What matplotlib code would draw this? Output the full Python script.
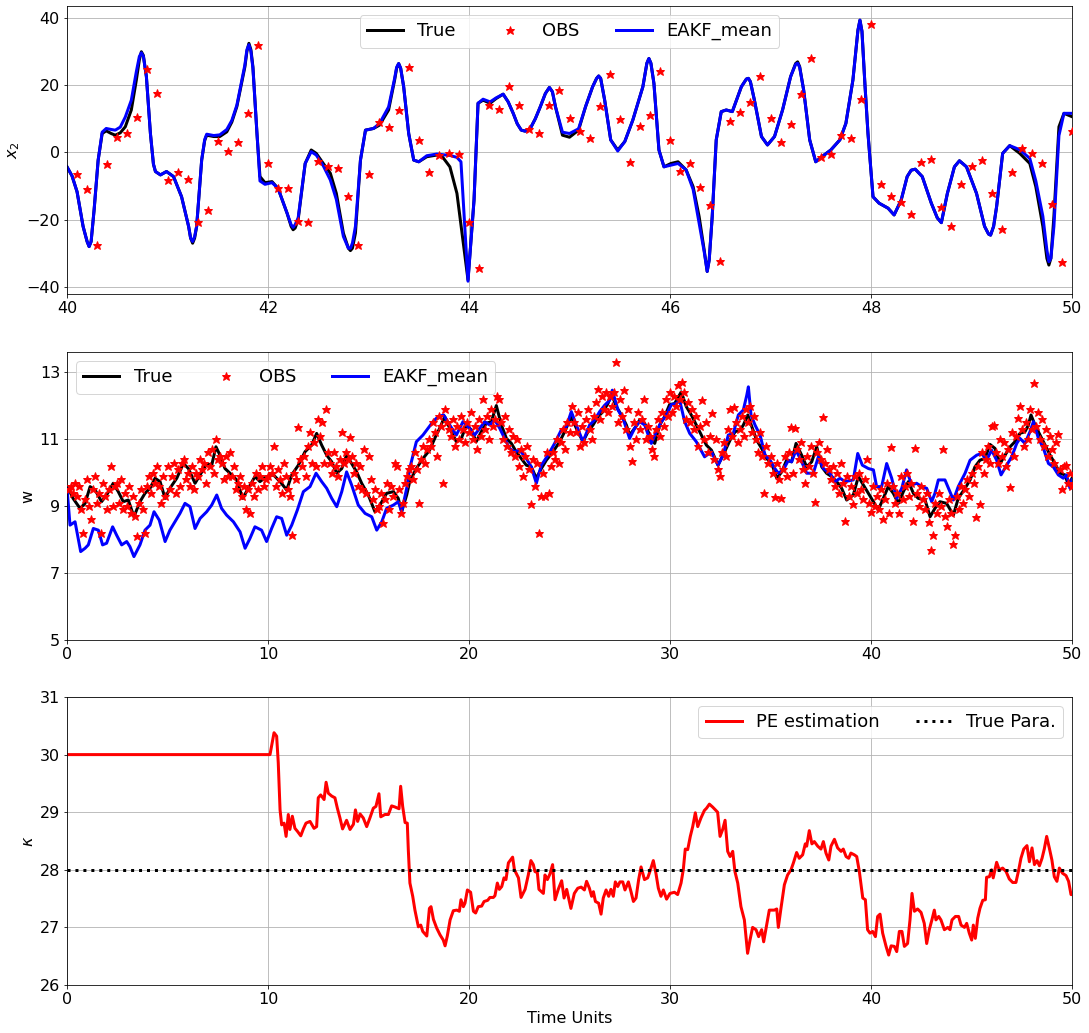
import matplotlib
matplotlib.use("Agg")
import matplotlib.pyplot as plt

# ---------------- Panel 1: x2 over 40-50 (time, value) ----------------
true_x2 = [
    (40.00, -4.3), (40.05, -7.0), (40.10, -11.7), (40.16, -22.0), (40.20, -26.5), (40.22, -28.0),
    (40.24, -26.5), (40.27, -17.0), (40.31, -2.3), (40.35, 5.6), (40.39, 6.4), (40.44, 5.6),
    (40.48, 5.1), (40.53, 5.8), (40.58, 7.6), (40.64, 12.6), (40.69, 21.5), (40.72, 27.5),
    (40.74, 29.9), (40.76, 28.8), (40.79, 22.5), (40.83, 5.6), (40.86, -3.5), (40.88, -5.7),
    (40.93, -6.7), (40.99, -5.7), (41.06, -7.2), (41.14, -13.2), (41.21, -22.0), (41.23, -25.5),
    (41.25, -27.0), (41.27, -25.5), (41.29, -22.0), (41.34, -2.3), (41.37, 3.5), (41.39, 5.1),
    (41.46, 4.7), (41.52, 4.7), (41.59, 6.1), (41.64, 9.0), (41.69, 13.6), (41.77, 25.4),
    (41.79, 30.0), (41.81, 32.4), (41.83, 30.5), (41.85, 25.4), (41.89, 5.6), (41.92, -7.2),
    (41.97, -9.0), (42.04, -8.7), (42.10, -10.7), (42.19, -18.1), (42.23, -22.0), (42.25, -23.0),
    (42.27, -22.5), (42.30, -20.0), (42.37, -3.3), (42.43, 0.7), (42.48, -0.3), (42.55, -3.3),
    (42.62, -6.2), (42.68, -12.2), (42.75, -24.0), (42.80, -28.5), (42.82, -29.2), (42.84, -28.5),
    (42.87, -24.0), (42.92, -2.3), (42.97, 6.6), (43.05, 7.1), (43.11, 8.1), (43.20, 12.6),
    (43.26, 21.5), (43.28, 25.0), (43.30, 26.4), (43.32, 25.0), (43.35, 19.5), (43.40, 5.6),
    (43.45, -2.3), (43.50, -2.8), (43.58, -1.3), (43.68, -0.8), (43.74, -1.5), (43.81, -4.3),
    (43.88, -12.2), (43.93, -24.0), (43.99, -37.9), (44.05, -14.2), (44.09, 14.6), (44.14, 15.5),
    (44.21, 14.6), (44.27, 16.0), (44.34, 17.3), (44.39, 15.0), (44.44, 11.6), (44.48, 8.5),
    (44.52, 6.6), (44.56, 6.3), (44.61, 7.1), (44.66, 10.0), (44.71, 13.6), (44.76, 17.5),
    (44.80, 19.3), (44.83, 18.0), (44.86, 13.6), (44.93, 5.1), (45.00, 4.5), (45.09, 6.6),
    (45.16, 13.6), (45.23, 19.5), (45.27, 22.0), (45.29, 22.7), (45.31, 22.0), (45.35, 15.5),
    (45.41, 3.7), (45.48, 0.7), (45.55, 3.2), (45.63, 9.6), (45.73, 19.5), (45.77, 26.5),
    (45.79, 27.9), (45.81, 26.5), (45.84, 20.5), (45.89, 0.7), (45.94, -4.3), (46.01, -3.3),
    (46.08, -2.8), (46.16, -5.2), (46.23, -10.2), (46.29, -19.1), (46.34, -29.0), (46.37, -35.4),
    (46.39, -32.0), (46.42, -19.1), (46.46, 3.7), (46.51, 12.1), (46.56, 12.6), (46.62, 12.1),
    (46.71, 19.5), (46.76, 21.8), (46.78, 22.0), (46.80, 21.0), (46.84, 15.5), (46.91, 4.7),
    (46.97, 2.2), (47.04, 4.7), (47.12, 12.6), (47.20, 22.5), (47.25, 26.4), (47.27, 26.9),
    (47.29, 25.5), (47.33, 18.5), (47.39, 3.7), (47.45, -2.8), (47.52, -1.1), (47.60, 0.7),
    (47.69, 3.7), (47.75, 8.6), (47.82, 21.5), (47.87, 36.3), (47.89, 39.3), (47.91, 36.0),
    (47.94, 20.0), (47.97, 5.6), (48.02, -13.2), (48.08, -15.1), (48.17, -16.6), (48.23, -18.6),
    (48.30, -14.2), (48.36, -7.2), (48.40, -5.3), (48.44, -5.0), (48.51, -7.2), (48.60, -15.1),
    (48.66, -19.5), (48.70, -20.9), (48.76, -12.2), (48.83, -4.3), (48.88, -2.5), (48.95, -4.3),
    (49.05, -12.2), (49.13, -22.0), (49.17, -24.3), (49.19, -24.6), (49.22, -22.0), (49.25, -16.1),
    (49.31, -0.3), (49.38, 2.0), (49.48, -0.3), (49.58, -3.3), (49.64, -10.2), (49.71, -22.0),
    (49.75, -31.5), (49.77, -33.5), (49.79, -31.5), (49.82, -19.0), (49.87, 7.6), (49.92, 11.6),
    (50.00, 10.6)]

eakf_x2 = [
    (40.00, -4.3), (40.05, -7.0), (40.10, -11.7), (40.16, -22.0), (40.20, -26.5), (40.22, -28.0),
    (40.24, -26.5), (40.27, -17.0), (40.31, -2.3), (40.35, 6.0), (40.39, 7.1), (40.44, 6.8),
    (40.48, 6.6), (40.53, 7.5), (40.58, 10.5), (40.64, 15.5), (40.69, 24.0), (40.72, 28.5),
    (40.74, 29.6), (40.76, 28.5), (40.79, 22.5), (40.83, 5.6), (40.86, -3.5), (40.88, -5.7),
    (40.93, -6.7), (40.99, -5.7), (41.06, -7.2), (41.14, -13.2), (41.21, -22.0), (41.23, -25.5),
    (41.25, -26.5), (41.27, -25.0), (41.29, -22.0), (41.34, -2.3), (41.37, 3.8), (41.39, 5.4),
    (41.46, 5.0), (41.52, 5.2), (41.59, 6.8), (41.64, 9.5), (41.69, 14.0), (41.77, 26.0),
    (41.79, 30.5), (41.81, 32.0), (41.83, 30.0), (41.85, 25.0), (41.89, 5.6), (41.92, -8.5),
    (41.97, -9.5), (42.04, -9.0), (42.10, -10.7), (42.19, -18.1), (42.23, -21.5), (42.25, -22.3),
    (42.27, -21.5), (42.30, -19.5), (42.37, -3.3), (42.43, 0.2), (42.48, -0.8), (42.55, -4.0),
    (42.62, -8.2), (42.68, -14.0), (42.75, -25.0), (42.80, -28.5), (42.82, -28.5), (42.84, -27.0),
    (42.87, -22.0), (42.92, -2.3), (42.97, 6.6), (43.05, 7.1), (43.11, 8.6), (43.20, 13.5),
    (43.26, 22.0), (43.28, 25.3), (43.30, 26.4), (43.32, 25.0), (43.35, 19.5), (43.40, 5.6),
    (43.45, -2.3), (43.50, -2.8), (43.58, -1.0), (43.68, -0.5), (43.74, -0.7), (43.81, -0.9),
    (43.88, -1.5), (43.92, -2.8), (43.99, -38.3), (44.05, -14.2), (44.09, 14.6), (44.14, 15.8),
    (44.21, 15.0), (44.27, 16.2), (44.34, 17.3), (44.39, 15.0), (44.44, 11.6), (44.48, 8.5),
    (44.52, 6.6), (44.56, 6.3), (44.61, 7.1), (44.66, 10.0), (44.71, 13.6), (44.76, 17.5),
    (44.80, 19.3), (44.83, 18.0), (44.86, 13.6), (44.93, 6.0), (45.00, 5.6), (45.09, 7.0),
    (45.16, 13.6), (45.23, 19.5), (45.27, 22.0), (45.29, 22.7), (45.31, 22.0), (45.35, 15.5),
    (45.41, 3.7), (45.48, 0.4), (45.55, 3.2), (45.63, 9.6), (45.73, 19.5), (45.77, 26.5),
    (45.79, 27.9), (45.81, 26.5), (45.84, 20.5), (45.89, 0.7), (45.94, -4.3), (46.01, -3.8),
    (46.08, -3.3), (46.16, -5.2), (46.23, -11.0), (46.29, -21.0), (46.34, -29.5), (46.37, -35.4),
    (46.39, -32.0), (46.42, -19.1), (46.46, 3.7), (46.51, 12.1), (46.56, 12.6), (46.62, 12.1),
    (46.71, 19.5), (46.76, 21.8), (46.78, 22.0), (46.80, 21.0), (46.84, 15.5), (46.91, 4.7),
    (46.97, 2.2), (47.04, 4.7), (47.12, 12.6), (47.20, 22.5), (47.25, 26.2), (47.27, 26.5),
    (47.29, 25.3), (47.33, 18.5), (47.39, 3.7), (47.45, -2.8), (47.52, -1.1), (47.60, 0.7),
    (47.69, 3.7), (47.75, 8.6), (47.82, 21.5), (47.87, 36.3), (47.89, 39.3), (47.91, 36.0),
    (47.94, 20.0), (47.97, 5.6), (48.02, -13.2), (48.08, -15.1), (48.17, -16.6), (48.23, -18.6),
    (48.30, -14.2), (48.36, -7.2), (48.40, -5.3), (48.44, -5.0), (48.51, -7.2), (48.60, -15.1),
    (48.66, -19.5), (48.70, -20.9), (48.76, -12.2), (48.83, -4.3), (48.88, -2.5), (48.95, -4.3),
    (49.05, -12.2), (49.13, -22.0), (49.17, -24.3), (49.19, -24.6), (49.22, -22.0), (49.25, -16.1),
    (49.31, -0.3), (49.38, 2.0), (49.48, 0.8), (49.58, -1.8), (49.64, -8.5), (49.71, -19.0),
    (49.75, -29.0), (49.77, -32.5), (49.79, -31.5), (49.82, -22.0), (49.87, 5.0), (49.92, 11.6),
    (50.00, 11.6)]

obs_x2_t = [40.1 + 0.1 * i for i in range(100)]
obs_x2_v = [-6.4, -10.9, -27.5, -3.5, 4.6, 5.9, 10.5, 24.8, 17.5, -8.2,
            -5.8, -7.9, -20.8, -17.1, 3.5, 0.4, 3.0, 11.7, 31.9, -3.2,
            -10.5, -10.5, -20.3, -20.6, -2.5, -4.0, -4.7, -13.0, -27.5, -6.3,
            9.1, 7.5, 12.6, 25.3, 3.7, -5.8, -0.9, -0.2, -0.5, -20.8,
            -34.3, 14.0, 12.9, 19.7, 14.0, 6.9, 5.7, 14.0, 18.5, 10.2,
            6.4, 4.4, 13.8, 23.3, 9.9, -3.0, 7.8, 11.1, 24.2, 3.7,
            -5.6, -3.2, -10.3, -15.6, -32.3, 9.3, 12.0, 15.0, 22.7, 10.2,
            3.1, 8.3, 17.2, 27.9, -1.3, -0.6, 5.1, 4.4, 16.0, 38.1,
            -9.5, -13.0, -14.7, -18.3, -3.0, -2.0, -16.1, -22.0, -9.3, -4.1,
            -2.3, -12.2, -22.8, -5.9, 1.4, -0.2, -3.2, -15.3, -32.7, 6.3]

# ---------------- Panel 2: w over 0-50 ----------------
true_w_t = [0.0, 0.07, 0.3, 0.65, 0.9, 1.15, 1.4, 1.72, 1.97, 2.3, 2.55, 2.8, 3.05, 3.33, 3.63, 3.88,
            4.13, 4.38, 4.63, 4.88, 5.12, 5.46, 5.79, 6.04, 6.37, 6.62, 6.95, 7.2, 7.41, 7.61, 7.86,
            8.11, 8.44, 8.74, 9.02, 9.35, 9.6, 9.93, 10.27, 10.6, 10.93, 11.18, 11.51, 11.84, 12.17,
            12.42, 12.67, 12.92, 13.17, 13.42, 13.67, 13.91, 14.16, 14.41, 14.66, 14.99, 15.32, 15.57,
            15.9, 16.24, 16.48, 16.65, 16.9, 17.05, 17.38, 17.71, 18.04, 18.37, 18.54, 18.79, 19.04,
            19.37, 19.62, 19.87, 20.12, 20.36, 20.61, 20.86, 21.11, 21.36, 21.61, 21.86, 22.11, 22.35,
            22.6, 22.85, 23.1, 23.35, 23.6, 23.85, 24.18, 24.51, 24.76, 25.09, 25.34, 25.67, 25.92,
            26.17, 26.42, 26.67, 26.92, 27.08, 27.33, 27.58, 27.83, 27.99, 28.24, 28.49, 28.74, 28.99,
            29.24, 29.49, 29.73, 29.98, 30.23, 30.56, 30.81, 31.06, 31.31, 31.56, 31.81, 32.06, 32.39,
            32.64, 32.99, 33.24, 33.49, 33.65, 33.87, 34.07, 34.31, 34.56, 34.81, 35.06, 35.31, 35.56,
            35.8, 36.05, 36.27, 36.55, 36.8, 37.05, 37.3, 37.55, 37.79, 38.04, 38.29, 38.54, 38.79,
            39.12, 39.37, 39.62, 39.87, 40.12, 40.36, 40.61, 40.86, 41.11, 41.36, 41.61, 41.86, 42.11,
            42.35, 42.69, 42.94, 43.18, 43.43, 43.76, 44.1, 44.34, 44.68, 44.93, 45.17, 45.42, 45.67,
            45.92, 46.17, 46.42, 46.67, 46.92, 47.16, 47.41, 47.66, 47.83, 47.96, 48.16, 48.41, 48.66,
            48.91, 49.15, 49.4, 49.65, 49.82, 50.0]
true_w_v = [9.5, 9.53, 9.23, 8.93, 9.08, 9.58, 9.48, 9.13, 9.33, 9.68, 9.43, 9.13, 9.18, 8.68, 9.13, 9.38,
            9.53, 9.83, 9.73, 9.23, 9.53, 9.83, 10.27, 10.12, 9.68, 9.93, 10.27, 10.22, 10.77, 10.52, 10.12,
            9.98, 9.78, 9.23, 9.53, 9.88, 9.73, 9.88, 9.93, 9.73, 9.48, 9.93, 10.22, 10.62, 10.82,
            11.17, 10.82, 10.52, 10.32, 9.98, 10.12, 10.52, 10.27, 10.02, 9.68, 9.33, 8.83, 9.03,
            9.38, 9.43, 9.23, 8.83, 9.33, 9.73, 10.12, 10.42, 10.67, 11.12, 11.32, 11.67, 11.32,
            10.92, 11.02, 11.42, 11.27, 10.92, 11.22, 11.47, 11.52, 12.0, 11.42, 11.02, 10.87, 10.62,
            10.42, 10.22, 10.17, 9.83, 10.12, 10.37, 10.62, 10.92, 11.22, 11.67, 11.32, 10.92, 11.22,
            11.42, 11.67, 11.82, 12.07, 12.36, 11.97, 11.72, 11.42, 11.12, 11.32, 11.57, 11.47, 11.12,
            10.87, 11.42, 11.67, 12.03, 12.06, 12.41, 11.97, 11.72, 11.42, 11.12, 10.82, 10.67, 10.22,
            10.52, 10.97, 11.22, 11.27, 11.42, 11.72, 11.37, 10.97, 10.72, 10.42, 10.27, 9.83, 10.02,
            10.37, 10.32, 10.87, 10.52, 10.17, 10.32, 10.77, 10.17, 9.98, 9.88, 9.73, 9.53, 9.18,
            9.33, 9.88, 9.63, 9.38, 9.13, 8.88, 9.23, 9.58, 9.38, 9.08, 9.43, 9.73, 9.38,
            9.23, 9.18, 8.68, 8.93, 9.13, 9.08, 8.73, 9.23, 9.53, 9.78, 10.17, 10.37, 10.42,
            10.84, 10.72, 10.27, 10.52, 10.77, 10.92, 11.17, 11.22, 11.42, 11.72, 11.42, 11.12, 10.82,
            10.52, 10.27, 9.98, 9.93, 9.63, 9.83]

eakf_w_t = [0.0, 0.15, 0.4, 0.68, 0.9, 1.06, 1.31, 1.56, 1.77, 1.97, 2.27, 2.47, 2.72, 2.97, 3.13, 3.33,
            3.63, 3.88, 4.13, 4.33, 4.59, 4.88, 5.12, 5.37, 5.62, 5.87, 6.12, 6.37, 6.62, 6.95, 7.2,
            7.45, 7.69, 7.94, 8.28, 8.61, 8.86, 9.1, 9.35, 9.68, 9.93, 10.18, 10.43, 10.68, 10.93,
            11.18, 11.46, 11.76, 12.09, 12.39, 12.67, 12.92, 13.17, 13.42, 13.67, 13.91, 14.16, 14.49,
            14.83, 15.16, 15.41, 15.66, 15.9, 16.24, 16.48, 16.65, 16.9, 17.05, 17.38, 17.71, 17.96,
            18.21, 18.46, 18.74, 19.04, 19.37, 19.7, 20.03, 20.28, 20.53, 20.78, 21.03, 21.28, 21.53,
            21.77, 22.02, 22.27, 22.52, 22.85, 23.1, 23.35, 23.6, 23.93, 24.26, 24.59, 24.84, 25.09,
            25.34, 25.67, 26.0, 26.25, 26.5, 26.75, 27.0, 27.13, 27.41, 27.66, 27.99, 28.24, 28.49,
            28.74, 29.07, 29.32, 29.57, 29.82, 30.07, 30.32, 30.48, 30.73, 30.98, 31.31, 31.72, 32.06,
            32.39, 32.64, 32.9, 33.15, 33.4, 33.65, 33.82, 33.9, 34.03, 34.23, 34.48, 34.73, 34.98,
            35.22, 35.39, 35.64, 35.89, 36.05, 36.27, 36.55, 36.8, 37.13, 37.38, 37.63, 37.96, 38.21,
            38.46, 38.71, 39.12, 39.34, 39.57, 39.87, 40.12, 40.28, 40.53, 40.78, 41.03, 41.28, 41.53,
            41.77, 42.02, 42.27, 42.52, 42.77, 43.02, 43.18, 43.35, 43.68, 44.1, 44.34, 44.68, 44.93,
            45.26, 45.51, 45.75, 46.0, 46.25, 46.47, 46.75, 47.0, 47.25, 47.41, 47.66, 47.91, 48.08,
            48.33, 48.58, 48.83, 49.07, 49.32, 49.57, 49.73, 49.9, 50.0]
eakf_w_v = [9.53, 8.43, 8.53, 7.64, 7.74, 7.84, 8.33, 8.28, 7.84, 7.89, 8.38, 8.13, 7.84, 7.94, 7.79, 7.49,
            7.84, 8.28, 8.43, 8.83, 8.58, 7.94, 8.28, 8.53, 8.78, 9.08, 8.98, 8.33, 8.63, 8.83, 9.03,
            9.33, 8.93, 8.73, 8.53, 8.23, 7.74, 8.03, 8.38, 8.28, 7.94, 8.33, 8.68, 8.63, 8.13,
            8.43, 8.88, 9.43, 9.58, 9.98, 9.73, 9.53, 9.23, 8.98, 9.43, 10.02, 9.63, 9.03,
            8.78, 8.68, 8.28, 8.53, 8.93, 9.03, 9.13, 8.83, 9.53, 10.12, 10.92, 11.12, 11.32,
            11.52, 11.67, 11.72, 11.42, 11.12, 11.52, 11.32, 11.12, 11.32, 11.52, 11.42, 11.57, 11.32,
            11.02, 10.72, 10.62, 10.67, 10.42, 10.17, 9.68, 10.22, 10.52, 10.87, 11.27, 11.37, 11.82,
            11.42, 10.92, 11.42, 11.57, 11.82, 12.01, 12.16, 12.46, 11.87, 11.62, 11.02, 11.32, 11.52,
            11.42, 10.87, 11.22, 11.52, 11.72, 12.03, 12.06, 12.16, 11.52, 11.17, 10.92, 10.47, 10.62,
            10.22, 10.52, 11.12, 11.17, 11.72, 11.87, 12.31, 12.56, 11.72, 11.42, 11.12, 10.52, 10.37,
            10.12, 9.98, 10.08, 10.37, 10.32, 10.67, 10.32, 9.98, 9.98, 10.47, 10.12, 9.98, 9.73,
            9.83, 9.73, 9.78, 10.57, 10.22, 10.12, 10.08, 9.58, 9.58, 10.27, 9.83, 9.23, 9.53,
            10.08, 9.63, 9.68, 9.58, 9.53, 9.13, 9.38, 9.78, 9.78, 9.18, 9.58, 9.98, 10.37,
            10.52, 10.57, 10.37, 10.67, 10.37, 9.93, 10.22, 10.47, 10.87, 11.02, 10.87, 11.22, 11.52,
            11.02, 10.72, 10.27, 10.17, 9.93, 9.83, 9.93, 9.53, 9.78]

obs_w_t = [0.1 * (i + 1) for i in range(500)]
obs_w_v = [9.5, 9.6, 9.4, 9.7, 9.3, 9.6, 8.9, 8.2, 9.2, 9.8,
           9.0, 8.6, 9.5, 9.9, 9.1, 9.4, 8.2, 9.7, 9.3, 8.9,
           9.5, 10.2, 9.0, 9.6, 9.7, 9.1, 9.8, 8.9, 9.4, 9.0,
           9.6, 8.8, 9.3, 8.7, 8.1, 9.1, 9.5, 8.9, 8.2, 9.6,
           9.9, 9.4, 10.0, 9.7, 10.2, 9.6, 9.1, 9.9, 9.3, 10.2,
           9.5, 9.9, 10.3, 9.4, 10.1, 9.6, 10.3, 10.4, 9.8, 10.0,
           9.6, 10.2, 9.5, 10.0, 9.9, 10.4, 10.1, 10.3, 9.7, 10.6,
           10.2, 10.7, 10.0, 11.0, 10.4, 10.5, 10.3, 9.8, 10.5, 9.9,
           10.6, 9.9, 10.2, 9.5, 9.7, 9.9, 9.3, 9.6, 8.9, 9.5,
           8.8, 9.7, 9.3, 10.0, 9.5, 9.9, 10.2, 9.6, 9.8, 9.9,
           10.2, 10.0, 10.8, 9.6, 10.1, 9.8, 9.4, 10.3, 9.9, 9.5,
           9.3, 8.15, 10.0, 9.8, 11.35, 10.4, 10.2, 10.5, 9.9, 10.8,
           11.2, 10.3, 10.9, 10.2, 11.6, 11.1, 11.5, 10.3, 11.9, 10.6,
           10.3, 10.0, 10.6, 10.2, 9.9, 10.4, 11.2, 10.3, 10.6, 10.4,
           11.05, 10.5, 10.0, 10.3, 9.6, 10.2, 9.5, 10.7, 9.4, 10.5,
           9.8, 9.2, 9.5, 8.9, 9.0, 9.4, 8.5, 9.2, 9.7, 8.9,
           9.6, 9.3, 10.3, 10.2, 9.5, 8.8, 9.1, 9.7, 9.9, 10.1,
           10.2, 9.8, 10.6, 10.1, 9.1, 10.4, 10.8, 10.3, 10.7, 11.0,
           10.8, 11.5, 11.2, 10.5, 11.7, 11.4, 9.7, 11.9, 11.5, 11.3,
           11.1, 11.6, 10.8, 11.4, 11.0, 11.7, 11.3, 10.9, 11.5, 11.2,
           11.8, 11.0, 11.4, 10.7, 11.6, 11.1, 12.2, 11.3, 11.7, 11.0,
           11.9, 11.4, 11.6, 12.3, 12.2, 11.5, 11.0, 11.7, 10.8, 11.3,
           10.6, 11.1, 10.5, 11.0, 10.2, 10.7, 9.9, 10.5, 10.8, 10.1,
           9.05, 10.4, 9.6, 10.3, 8.2, 9.3, 10.0, 9.3, 10.6, 9.4,
           10.2, 10.6, 10.4, 11.0, 10.3, 10.9, 11.3, 10.7, 11.5, 11.2,
           12.0, 11.5, 11.2, 11.8, 10.8, 11.4, 10.9, 11.6, 11.9, 11.3,
           11.0, 11.7, 12.1, 12.5, 11.6, 12.3, 11.9, 12.4, 11.8, 12.3,
           12.0, 12.4, 13.3, 11.5, 12.2, 11.7, 12.46, 11.3, 11.9, 10.8,
           10.35, 11.5, 11.0, 11.8, 11.3, 11.6, 12.2, 11.0, 11.4, 11.1,
           10.7, 10.5, 11.3, 11.6, 11.1, 11.8, 11.4, 12.2, 11.7, 12.4,
           11.8, 12.3, 12.0, 12.6, 12.2, 12.7, 12.4, 11.6, 12.1, 11.5,
           11.9, 11.3, 11.7, 10.8, 11.4, 12.16, 11.0, 11.5, 10.6, 11.1,
           11.77, 10.4, 11.0, 10.1, 9.9, 10.6, 10.9, 10.5, 11.3, 11.9,
           11.1, 11.96, 11.5, 10.9, 11.3, 11.7, 11.1, 11.9, 11.5, 12.0,
           11.2, 11.7, 11.0, 10.6, 11.2, 10.5, 9.4, 10.8, 10.3, 10.5,
           10.0, 9.28, 10.3, 9.8, 9.23, 10.1, 10.5, 9.9, 10.6, 11.37,
           10.0, 11.32, 10.7, 10.4, 10.9, 10.1, 9.7, 10.5, 10.2, 10.8,
           10.0, 9.13, 10.6, 10.9, 10.4, 11.67, 10.3, 10.7, 10.1, 9.8,
           10.2, 9.6, 10.0, 9.4, 10.3, 9.7, 8.55, 9.9, 9.3, 9.6,
           9.05, 9.9, 9.4, 10.0, 9.5, 9.2, 9.8, 10.4, 9.1, 8.83,
           9.6, 9.0, 9.3, 8.9, 9.5, 8.61, 9.2, 9.7, 8.8, 10.77,
           9.6, 9.1, 9.4, 8.78, 9.9, 9.2, 9.6, 10.0, 9.3, 9.7,
           8.55, 10.72, 9.4, 9.0, 9.6, 9.2, 8.9, 9.4, 8.53, 7.69,
           8.13, 9.1, 8.8, 9.4, 9.0, 10.7, 8.7, 8.41, 9.2, 8.8,
           7.87, 8.15, 9.3, 8.9, 9.6, 9.1, 9.5, 9.8, 9.3, 10.0,
           9.7, 8.66, 10.2, 9.06, 10.6, 10.0, 10.4, 10.8, 10.3, 11.4,
           11.42, 10.6, 10.3, 11.0, 10.5, 10.9, 10.2, 10.7, 9.56, 11.2,
           10.5, 11.1, 11.64, 11.99, 11.3, 10.8, 11.5, 11.0, 11.9, 11.3,
           12.68, 11.4, 11.82, 11.0, 11.6, 10.8, 11.3, 10.5, 11.1, 10.7,
           10.3, 10.9, 11.14, 10.1, 9.51, 10.2, 10.24, 9.7, 10.0, 9.6]

# ---------------- Panel 3: kappa estimation ----------------
pe_t = [0.0, 10.1, 10.3, 10.43, 10.51, 10.6, 10.68, 10.8, 10.9, 11.01, 11.09, 11.21, 11.34, 11.46,
        11.63, 11.76, 11.89, 12.09, 12.29, 12.42, 12.5, 12.62, 12.79, 12.89, 13.0, 13.17, 13.33,
        13.45, 13.58, 13.71, 13.91, 14.08, 14.25, 14.35, 14.46, 14.58, 14.74, 14.91, 15.07, 15.24,
        15.37, 15.52, 15.61, 15.82, 15.99, 16.15, 16.32, 16.52, 16.6, 16.7, 16.82, 16.93, 16.98,
        17.06, 17.2, 17.31, 17.48, 17.6, 17.7, 17.9, 18.03, 18.11, 18.23, 18.39, 18.56, 18.72,
        18.81, 18.92, 19.06, 19.22, 19.39, 19.52, 19.6, 19.72, 19.8, 19.92, 20.08, 20.22, 20.33,
        20.46, 20.63, 20.75, 20.93, 21.04, 21.21, 21.29, 21.41, 21.51, 21.63, 21.74, 21.84, 21.96,
        22.17, 22.26, 22.46, 22.59, 22.79, 22.95, 23.08, 23.2, 23.28, 23.4, 23.48, 23.7, 23.78,
        23.9, 24.03, 24.16, 24.28, 24.44, 24.61, 24.73, 24.86, 25.07, 25.24, 25.41, 25.58, 25.74,
        25.85, 25.99, 26.1, 26.19, 26.29, 26.45, 26.57, 26.68, 26.82, 26.95, 27.06, 27.18, 27.28,
        27.4, 27.51, 27.65, 27.76, 27.93, 28.06, 28.18, 28.31, 28.44, 28.56, 28.73, 28.89, 29.0,
        29.17, 29.3, 29.42, 29.55, 29.67, 29.83, 30.0, 30.22, 30.38, 30.55, 30.66, 30.76, 30.88,
        31.01, 31.13, 31.26, 31.38, 31.54, 31.71, 31.82, 31.96, 32.12, 32.37, 32.49, 32.62, 32.74,
        32.87, 32.99, 33.12, 33.23, 33.37, 33.53, 33.7, 33.86, 33.98, 34.11, 34.28, 34.41, 34.56,
        34.66, 34.78, 34.94, 35.19, 35.31, 35.39, 35.52, 35.69, 35.85, 36.02, 36.14, 36.3, 36.43,
        36.6, 36.73, 36.8, 36.93, 37.06, 37.18, 37.35, 37.51, 37.63, 37.76, 37.9, 38.01, 38.18,
        38.34, 38.51, 38.62, 38.76, 38.89, 39.0, 39.17, 39.29, 39.42, 39.59, 39.72, 39.83, 39.95,
        40.08, 40.22, 40.33, 40.45, 40.58, 40.75, 40.88, 41.0, 41.16, 41.28, 41.41, 41.54, 41.66,
        41.82, 41.94, 42.04, 42.16, 42.32, 42.49, 42.65, 42.77, 42.9, 43.03, 43.15, 43.23, 43.37,
        43.48, 43.65, 43.82, 43.93, 44.03, 44.2, 44.36, 44.48, 44.65, 44.76, 44.89, 45.01, 45.09,
        45.19, 45.31, 45.42, 45.56, 45.69, 45.75, 45.89, 46.0, 46.08, 46.25, 46.38, 46.55, 46.72,
        46.88, 47.05, 47.21, 47.35, 47.46, 47.6, 47.76, 47.88, 48.01, 48.13, 48.26, 48.38, 48.51,
        48.62, 48.74, 48.87, 49.0, 49.12, 49.25, 49.37, 49.53, 49.7, 49.83, 49.95, 50.0]
pe_v = [30.0, 30.0, 30.38, 30.32, 29.86, 29.04, 28.78, 28.81, 28.58, 28.96, 28.70, 28.93, 28.72, 28.67,
        28.59, 28.71, 28.81, 28.84, 28.72, 28.75, 29.25, 29.30, 29.22, 29.52, 29.33, 29.28, 29.25,
        29.07, 28.90, 28.71, 28.86, 28.70, 28.79, 29.04, 28.84, 28.97, 28.90, 28.75, 28.90, 29.07,
        29.10, 29.32, 28.92, 28.96, 28.96, 29.11, 29.09, 29.06, 29.45, 29.10, 28.82, 28.81, 28.35,
        27.77, 27.54, 27.30, 27.01, 27.04, 26.93, 26.85, 27.33, 27.36, 27.14, 26.99, 26.87, 26.78,
        26.68, 26.85, 27.13, 27.29, 27.30, 27.28, 27.48, 27.36, 27.42, 27.65, 27.61, 27.28, 27.25,
        27.36, 27.37, 27.45, 27.47, 27.52, 27.52, 27.55, 27.77, 27.66, 27.71, 27.86, 27.83, 28.12,
        28.22, 28.0, 27.86, 27.52, 27.66, 27.91, 28.16, 28.09, 27.97, 27.95, 27.66, 27.59, 27.91,
        27.83, 27.93, 28.09, 27.48, 27.66, 27.81, 27.51, 27.66, 27.33, 27.59, 27.68, 27.70, 27.65,
        27.80, 27.68, 27.54, 27.62, 27.45, 27.42, 27.23, 27.51, 27.65, 27.54, 27.66, 27.54, 27.79,
        27.71, 27.79, 27.79, 27.65, 27.79, 27.62, 27.45, 27.51, 27.83, 28.05, 27.83, 27.86, 27.97,
        28.16, 27.94, 27.68, 27.54, 27.65, 27.49, 27.59, 27.61, 27.57, 27.77, 28.0, 28.36, 28.35,
        28.58, 28.75, 28.99, 28.75, 28.90, 29.03, 29.07, 29.14, 29.09, 29.0, 28.58, 28.70, 28.86,
        28.32, 28.23, 28.32, 27.97, 27.77, 27.36, 27.13, 26.55, 26.78, 27.0, 26.96, 26.84, 26.96,
        26.75, 26.99, 27.30, 27.30, 27.32, 27.0, 27.33, 27.74, 27.91, 28.0, 28.12, 28.30, 28.20,
        28.26, 28.45, 28.41, 28.68, 28.45, 28.49, 28.41, 28.36, 28.49, 28.29, 28.17, 28.41, 28.53,
        28.38, 28.32, 28.36, 28.23, 28.20, 28.29, 28.26, 28.23, 27.97, 27.51, 27.48, 26.96, 26.90,
        26.93, 26.84, 27.19, 27.23, 26.90, 26.67, 26.52, 26.68, 26.67, 26.58, 26.93, 26.93, 26.67,
        26.72, 27.13, 27.59, 27.28, 27.32, 27.26, 27.07, 26.72, 26.96, 27.13, 27.30, 27.13, 27.19,
        27.13, 26.96, 27.0, 26.96, 27.13, 27.19, 27.19, 27.04, 27.0, 27.07, 26.90, 26.78, 27.04,
        26.81, 27.16, 27.33, 27.47, 27.48, 27.87, 27.88, 28.0, 27.86, 28.13, 28.0, 28.03, 27.97,
        27.84, 27.78, 27.78, 28.0, 28.20, 28.36, 28.42, 28.14, 28.38, 28.09, 28.16, 28.07, 28.20,
        28.36, 28.58, 28.38, 28.17, 27.88, 27.80, 28.03, 27.94, 27.90, 27.80, 27.57, 27.57]
true_kappa = 28.0
x_range_pe = [0, 50]

# ---------------- Figure ----------------
W, H = 1089, 1033
fig = plt.figure(figsize=(W / 72, H / 72), dpi=72)
TICK_FS = 16
LEG_FS = 18

def add_ax(top_px, bottom_px):
    return fig.add_axes([67 / W, 1 - bottom_px / H, 1005 / W, (bottom_px - top_px) / H])

ax1 = add_ax(6, 294)
ax2 = add_ax(352, 640)
ax3 = add_ax(697, 985)

true_x2_t = [p[0] for p in true_x2]
true_x2_v = [p[1] for p in true_x2]
eakf_x2_t = [p[0] for p in eakf_x2]
eakf_x2_v = [p[1] for p in eakf_x2]

# Panel 1
ax1.plot(true_x2_t, true_x2_v, color='black', lw=3, label='True', zorder=2)
ax1.plot(obs_x2_t, obs_x2_v, '*', color='red', ms=9, label='OBS', zorder=3)
ax1.plot(eakf_x2_t, eakf_x2_v, color='blue', lw=3, label='EAKF_mean', zorder=2.5)
ax1.set_xlim(40, 50)
ax1.set_ylim(-42.1, 43.5)
ax1.set_xticks([40, 42, 44, 46, 48, 50])
ax1.set_yticks([-40, -20, 0, 20, 40])
ax1.set_ylabel('$x_2$', fontsize=TICK_FS)
ax1.legend(loc='upper center', ncol=3, fontsize=LEG_FS, handlelength=2.0)

# Panel 2
ax2.plot(true_w_t, true_w_v, color='black', lw=3, label='True', zorder=2)
ax2.plot(obs_w_t, obs_w_v, '*', color='red', ms=9, label='OBS', zorder=3)
ax2.plot(eakf_w_t, eakf_w_v, color='blue', lw=3, label='EAKF_mean', zorder=2.5)
ax2.set_xlim(0, 50)
ax2.set_ylim(5, 13.6)
ax2.set_yticks([5, 7, 9, 11, 13])
ax2.set_ylabel('w', fontsize=TICK_FS)
ax2.legend(loc='upper left', ncol=3, fontsize=LEG_FS, handlelength=2.0)

# Panel 3
ax3.plot(pe_t, pe_v, color='red', lw=3, label='PE estimation')
ax3.plot(x_range_pe, [true_kappa, true_kappa], ':', color='black', lw=3, label='True Para.')
ax3.set_xlim(0, 50)
ax3.set_ylim(26, 31)
ax3.set_yticks([26, 27, 28, 29, 30, 31])
ax3.set_ylabel('$\\kappa$', fontsize=TICK_FS)
ax3.set_xlabel('Time Units', fontsize=TICK_FS)
ax3.legend(loc='upper right', ncol=2, fontsize=LEG_FS, handlelength=2.0)

for ax in (ax1, ax2, ax3):
    ax.grid(True)
    ax.tick_params(labelsize=TICK_FS)

fig.savefig('out.png', dpi=72)
